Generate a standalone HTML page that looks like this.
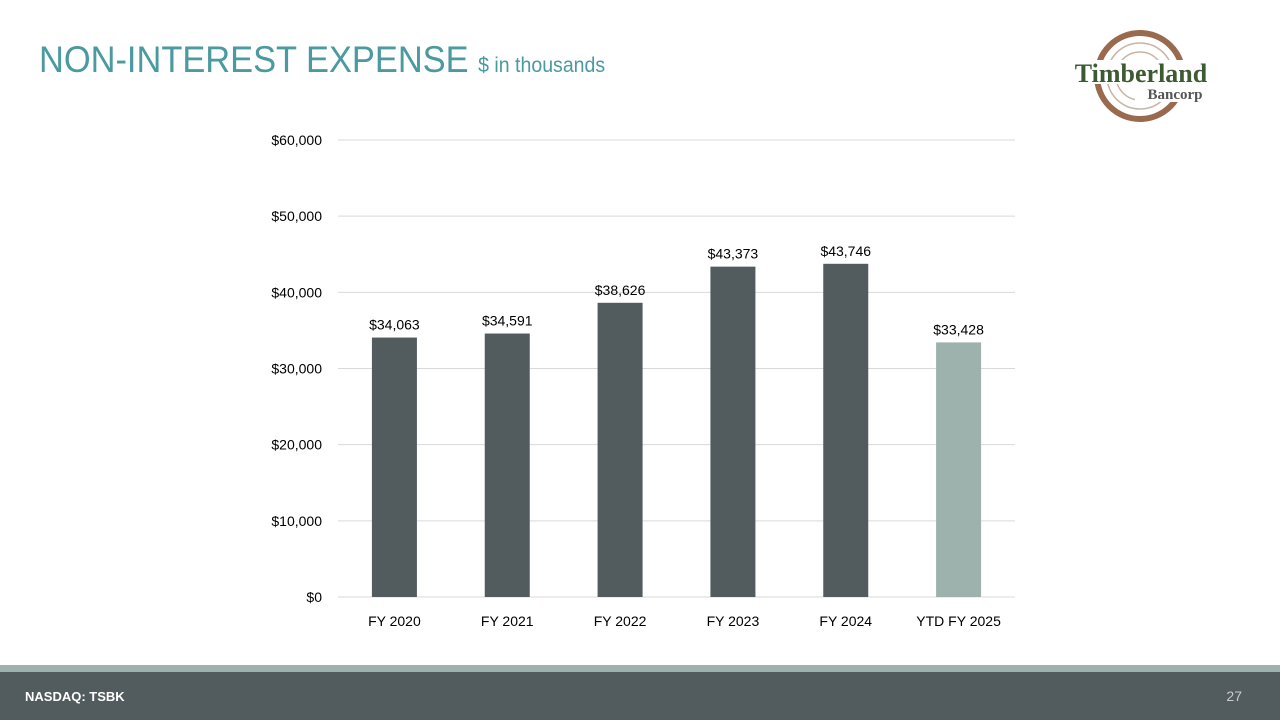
<!DOCTYPE html>
<html><head><meta charset="utf-8"><style>
body{margin:0;width:1280px;height:720px;position:relative;background:#fff;font-family:"Liberation Sans",sans-serif;overflow:hidden}
#title{position:absolute;left:39px;top:39px;font-size:37px;color:#4a9aa0;white-space:nowrap;transform:scaleX(0.93);transform-origin:0 0}
#title span{font-size:21px}
#band{position:absolute;left:0;top:665px;width:1280px;height:7px;background:#9db2ad}
#foot{position:absolute;left:0;top:672px;width:1280px;height:48px;background:#525b5e}
#foot .l{position:absolute;left:25px;top:17px;color:#fff;font-size:13px;font-weight:bold}
#foot .r{position:absolute;right:38px;top:16px;color:#ccc;font-size:14px}
</style></head><body>
<div id="title">NON-INTEREST EXPENSE <span>$ in thousands</span></div>
<svg style="position:absolute;left:1050px;top:20px" width="190" height="110">
<circle cx="90" cy="56" r="43" fill="none" stroke="#9a6a4e" stroke-width="6"/>
<circle cx="90" cy="56" r="33" fill="none" stroke="#c9b3a6" stroke-width="1.5"/>
<circle cx="90" cy="56" r="24" fill="none" stroke="#c9b3a6" stroke-width="1.5"/>
<rect x="8" y="40" width="170" height="24" fill="#fff"/>
<rect x="85" y="64" width="76" height="18" fill="#fff"/>
<text x="91" y="62" text-anchor="middle" font-family="Liberation Serif,serif" font-weight="bold" font-size="26" fill="#3e5a32">Timberland</text>
<text x="125" y="79" text-anchor="middle" font-family="Liberation Serif,serif" font-weight="bold" font-size="15" fill="#555">Bancorp</text>
</svg>
<svg id="chart" width="1280" height="720" style="position:absolute;left:0;top:0"></svg>
<div id="band"></div>
<div id="foot"><span class="l">NASDAQ: TSBK</span><span class="r">27</span></div>
<script>
const categories=["FY 2020","FY 2021","FY 2022","FY 2023","FY 2024","YTD FY 2025"];
const values=[34063,34591,38626,43373,43746,33428];
const ticks=[0,10000,20000,30000,40000,50000,60000];
const NS="http://www.w3.org/2000/svg";
const svg=document.getElementById('chart');
const y0=597,y1=140,x0=338,x1=1015,max=60000;
const y=v=>y0-(v/max)*(y0-y1);
const step=(x1-x0)/categories.length;
const x=i=>x0+step*(i+0.5);
const fmt=v=>"$"+v.toLocaleString("en-US");
function mk(t,a){const e=document.createElementNS(NS,t);for(const k in a)e.setAttribute(k,a[k]);svg.appendChild(e);return e;}
ticks.forEach(t=>{
 const l=mk('line',{x1:x0,x2:x1,y1:y(t),y2:y(t),stroke:'#d9d9d9','stroke-width':1});
 
 
 const tx=mk('text',{x:322,y:y(t)+5,'text-anchor':'end','font-size':14,fill:'#000'});
 tx.textContent=fmt(t);
 
 
});
values.forEach((v,i)=>{
 const b=mk('rect',{x:x(i)-22.5,y:y(v),width:45,height:y0-y(v),fill:i===5?'#9db2ad':'#525b5e'});
 
 
 const lb=mk('text',{x:x(i),y:y(v)-8,'text-anchor':'middle','font-size':14,fill:'#000'});
 lb.textContent=fmt(v);
 
 
 const c=mk('text',{x:x(i),y:626,'text-anchor':'middle','font-size':14,fill:'#000'});
 c.textContent=categories[i];
 
 
});
</script>
</body></html>
